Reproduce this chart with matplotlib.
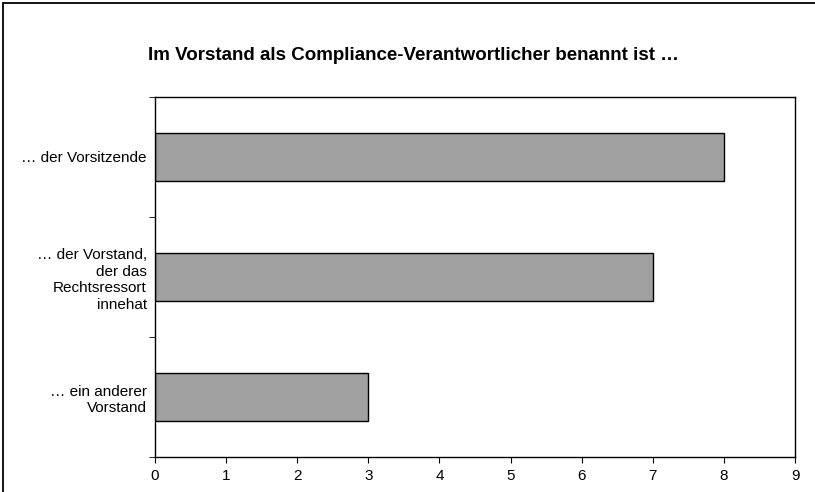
import matplotlib.pyplot as plt
import matplotlib.patches as mpatches
import numpy as np

plt.rcParams['font.family'] = ['Liberation Sans', 'DejaVu Sans']

kategorien = ['… der Vorsitzende', '… der Vorstand,\nder das\nRechtsressort\ninnehat', '… ein anderer\nVorstand']
werte = [8, 7, 3]
xticks = list(range(0, 10))

fig = plt.figure(figsize=(8.15, 4.92), dpi=100)
ax = fig.add_axes([155/815, 1-457/492, 640/815, 360/492])

# Rahmen um die ganze Grafik
fig.patches.append(mpatches.Rectangle((3/815, -0.1), 1.2, 1-3/492+0.1, transform=fig.transFigure,
                                      fill=False, edgecolor='black', linewidth=1.3))

y = np.arange(len(kategorien))
ax.barh(y, werte, height=0.4, color='#a0a0a0', edgecolor='black', linewidth=1)
ax.set_ylim(2.5, -0.5)
ax.set_xlim(0, 9)
ax.set_xticks(xticks)
ax.set_yticks(y)
ax.set_yticklabels(kategorien, fontsize=11, linespacing=1.26)
ax.set_yticks([-0.5, 0.5, 1.5, 2.5], minor=True)
ax.tick_params(axis='y', which='major', length=0, pad=6)
ax.tick_params(axis='y', which='minor', length=4, direction='out')
ax.tick_params(axis='x', length=4, direction='out', labelsize=11, pad=5)
for s in ax.spines.values():
    s.set_linewidth(1)

fig.text(148/815, 1-55/492, 'Im Vorstand als Compliance-Verantwortlicher benannt ist …',
         fontsize=13.5, fontweight='bold', ha='left', va='center')

fig.savefig('out.png', dpi=100)
